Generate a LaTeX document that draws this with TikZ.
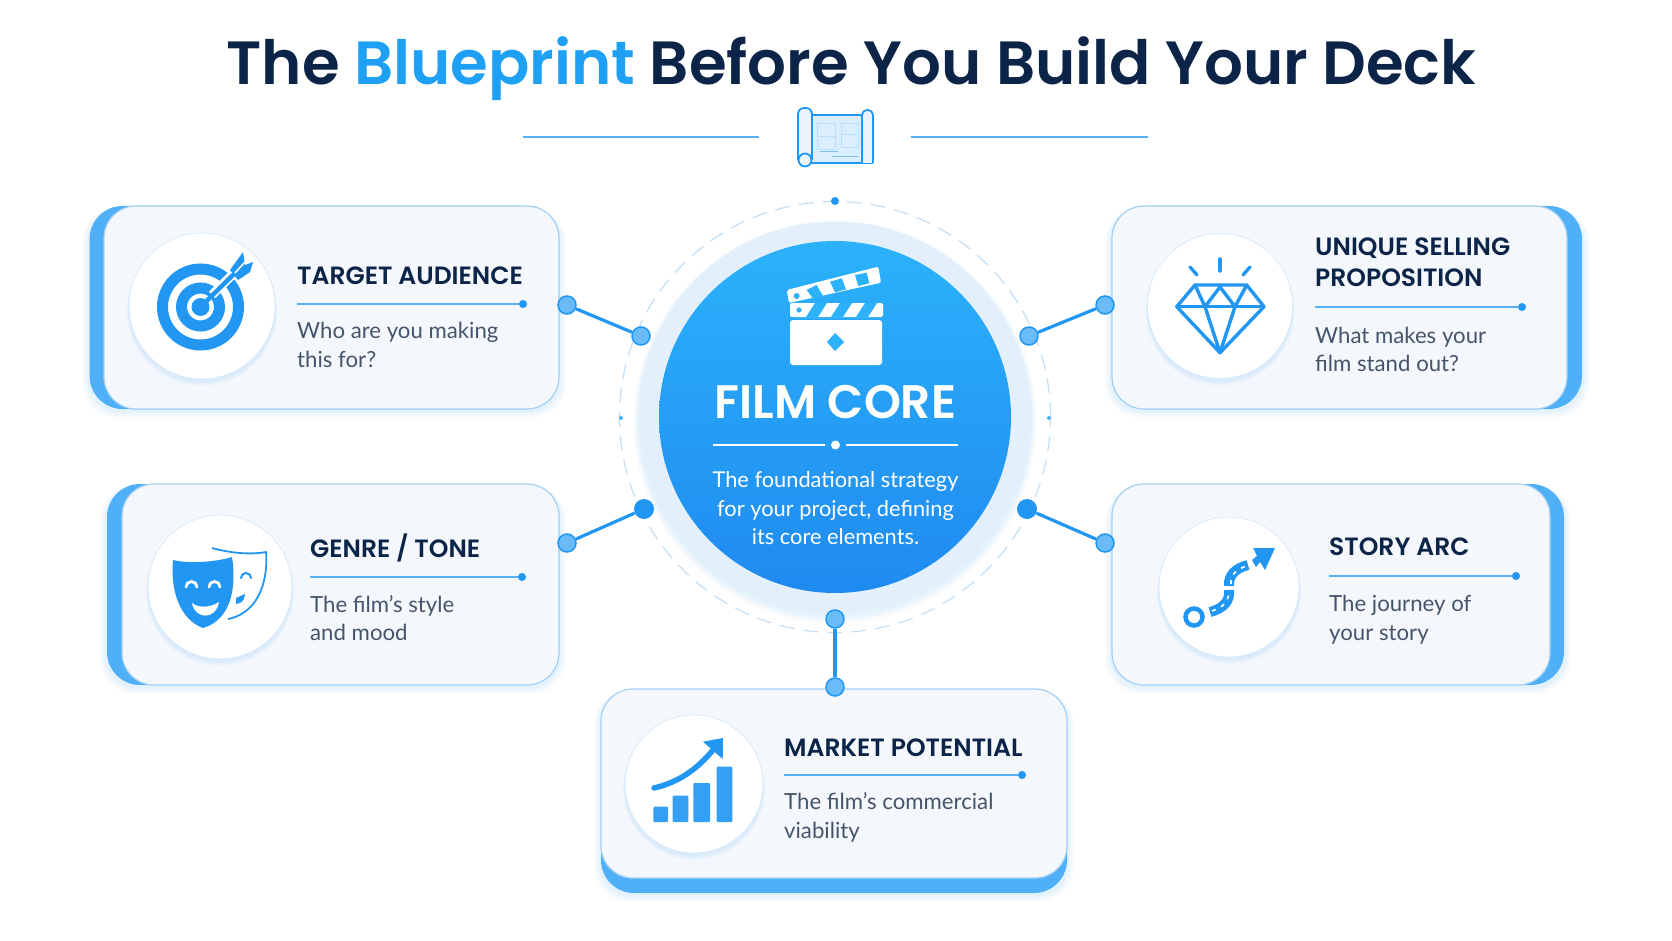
\documentclass[tikz,border=0pt]{standalone}
\usepackage{fontspec}
\setmainfont{Lato}
\newfontfamily\headfont[BoldFont={Poppins SemiBold}]{Poppins}
\usetikzlibrary{shapes.geometric, positioning, shadows}

\definecolor{navy}{HTML}{0B2447}
\definecolor{slatetext}{HTML}{46546B}
\definecolor{skyblue}{HTML}{2196F3}
\definecolor{accent}{HTML}{4FB0F8}
\definecolor{coretop}{HTML}{2BB2FB}
\definecolor{corebottom}{HTML}{1F8AF0}
\definecolor{cardfill}{HTML}{F4F8FD}
\definecolor{cardline}{HTML}{A3D0F4}
\definecolor{halo}{HTML}{E3F0FC}
\definecolor{ringline}{HTML}{C3DFF7}

\tikzset{
  softshadow/.style={
    general shadow={shadow scale=1.03, shadow yshift=-5pt, fill=skyblue, opacity=0.03},
    general shadow={shadow scale=1.02, shadow yshift=-4pt, fill=skyblue, opacity=0.04},
    general shadow={shadow scale=1.01, shadow yshift=-3pt, fill=skyblue, opacity=0.05}},
  cardback/.style={rectangle, rounded corners=33pt, fill=accent, inner sep=0pt, softshadow},
  cardfront/.style={rectangle, rounded corners=32pt, fill=cardfill, draw=cardline, line width=1.2pt, inner sep=0pt},
  iconcircle/.style={circle, fill=white, draw=cardline!50, line width=0.6pt, inner sep=0pt, softshadow},
  cardtitle/.style={anchor=base west, inner sep=0pt, text=navy, font=\headfont\fontsize{25}{32}\selectfont\bfseries},
  carddesc/.style={anchor=base west, inner sep=0pt, text=slatetext, font=\fontsize{22.2}{28.5}\selectfont},
  coreline/.style={anchor=base, inner sep=0pt, text=white, font=\fontsize{21.8}{28}\selectfont},
  ruleend/.style={circle, fill=skyblue, minimum size=8pt, inner sep=0pt},
  rule/.style={skyblue!75, line width=1.3pt},
  joint/.style={circle, fill=accent!85, draw=skyblue, line width=1.5pt, minimum size=18pt, inner sep=0pt},
  jointsolid/.style={circle, fill=skyblue, minimum size=20pt, inner sep=0pt},
  link/.style={skyblue, line width=3.2pt},
  icon/.style={skyblue, line width=3.4pt, line join=round, line cap=round},
}

\begin{document}
\begin{tikzpicture}[x=1pt, y=-1pt]
\useasboundingbox (0,0) rectangle (1672,941);
\fill[white] (0,0) rectangle (1672,941);

% Heading
\node[anchor=base, inner sep=0pt, text=navy, font=\headfont\fontsize{61}{70}\selectfont\bfseries] (heading) at (851.5,85)
  {The {\color{skyblue!90!cyan}Blueprint} Before You Build Your Deck};
\coordinate (headla) at (523,137);
\coordinate (headlb) at (759,137);
\coordinate (headra) at (911,137);
\coordinate (headrb) at (1148,137);
\draw[rule] (headla) -- (headlb);
\draw[rule] (headra) -- (headrb);

% Scroll icon
\fill[skyblue!16] (812,115) rectangle (862,163);
\draw[skyblue, line width=1.8pt, rounded corners=1pt] (812,115) -- (862,115) (805,163) -- (873,163);
\draw[skyblue, line width=1.8pt, rounded corners=6pt, fill=skyblue!10] (798,160) -- (798,108) -- (812,108) -- (812,160);
\draw[skyblue, line width=1.8pt, rounded corners=5pt, fill=skyblue!10] (862,163) -- (862,110) -- (873,110) -- (873,163);
\draw[skyblue, line width=1.8pt, fill=skyblue!10] (805,160) circle (6.5);
\draw[skyblue!30, line width=1pt] (817,124) rectangle (835,150) (841,124) rectangle (858,148) (817,137) -- (835,137) (841,135) -- (858,135);
\draw[skyblue!60, line width=1pt] (820,152) -- (838,152) (832,157) -- (858,157);

% Rings around the core
\node[circle, draw=ringline, line width=1.2pt, dash pattern=on 15pt off 9pt, minimum size=431pt, inner sep=0pt] (outerring) at (835,417) {};
\node[circle, fill=halo, minimum size=391pt, inner sep=0pt, softshadow] (haloring) at (835,417) {};
\node[circle, top color=coretop, bottom color=corebottom, minimum size=352pt, inner sep=0pt] (core) at (835,417) {};
\node[circle, fill=skyblue, minimum size=8pt, inner sep=0pt] (ringtop) at (835,201) {};
\node[circle, fill=accent, minimum size=4pt, inner sep=0pt] (ringleft) at (621,418) {};
\node[circle, fill=accent, minimum size=4pt, inner sep=0pt] (ringright) at (1049,418) {};

% Clapperboard
\fill[white, rounded corners=3pt] (790,320) rectangle (882,365);
\fill[white, rounded corners=2pt] (790,303) rectangle (883,317);
\fill[white, rounded corners=2pt] (786.7,290) -- (878.3,266.7) -- (881,282.7) -- (789,303) -- cycle;
\foreach \sx in {806,831,856} {
  \fill[coretop] (\sx,317) -- (\sx+9,303) -- (\sx+21,303) -- (\sx+12,317) -- cycle;
}
\fill[coretop] (806.7,290) -- (816.7,285) -- (823.3,296.7) -- (813.3,299) -- cycle;
\fill[coretop] (830,281.7) -- (841.7,278.3) -- (846,289.3) -- (835,292.3) -- cycle;
\fill[coretop] (855,275) -- (866.7,272.7) -- (869.3,283.3) -- (858.3,286) -- cycle;
\fill[coretop] (796.7,296) circle (3) (799,310) circle (2.6);
\fill[coretop] (835,333) -- (844,342) -- (835,351) -- (827,342) -- cycle;

% Core text
\node[anchor=base, inner sep=0pt, text=white, font=\headfont\fontsize{47}{50}\selectfont\bfseries] (coretitle) at (835.5,418) {FILM CORE};
\node[circle, fill=white, minimum size=9pt, inner sep=0pt] (coredot) at (835.5,445) {};
\coordinate (corela) at (713,445);
\coordinate (corera) at (958,445);
\draw[white, line width=1.2pt] (corela) -- ([xshift=-6pt]coredot.west);
\draw[white, line width=1.2pt] ([xshift=6pt]coredot.east) -- (corera);
\node[coreline] (coreta) at (835.5,487) {The foundational strategy};
\node[coreline] (coretb) at (835.5,516) {for your project, defining};
\node[coreline] (coretc) at (835.5,544) {its core elements.};

% Target audience
\node[cardback, minimum width=469.4pt, minimum height=203pt] (audienceback) at (324.3,307.5) {};
\node[cardfront, minimum width=455pt, minimum height=203pt] (audience) at (331.5,307.5) {};
\node[iconcircle, minimum size=146pt] (audienceicon) at (202,306) {};
\node[cardtitle] (audiencetitle) at (297,284) {TARGET AUDIENCE};
\coordinate (audiencerule) at (297,304);
\node[ruleend] (audienceend) at (523,304) {};
\draw[rule] (audiencerule) -- (audienceend);
\node[carddesc] (audiencea) at (297,338) {Who are you making};
\node[carddesc] (audienceb) at (297,367) {this for?};

\draw[skyblue, line width=11pt] (200.5,307) circle (38);
\draw[skyblue, line width=11pt] (200.5,307) circle (19);
\fill[skyblue] (200.5,307) circle (9);
\draw[white, line width=9pt] (212,295) -- (245,262);
\draw[skyblue, line width=4.5pt] (200.5,307) -- (238,270);
\fill[skyblue] (230,270) -- (243,252) -- (245,265) -- (253,262) -- (250,272) -- (238,280) -- cycle;
\draw[white, line width=1.5pt] (235,273) -- (245,262);

% Unique selling proposition
\node[cardback, minimum width=470pt, minimum height=203pt] (sellingback) at (1347,307.5) {};
\node[cardfront, minimum width=455pt, minimum height=203pt] (selling) at (1339.5,307.5) {};
\node[iconcircle, minimum size=145pt] (sellingicon) at (1220,306) {};
\node[cardtitle] (sellingtitle) at (1315,255) {UNIQUE SELLING};
\node[cardtitle] (sellingtitleb) at (1315,287) {PROPOSITION};
\coordinate (sellingrule) at (1315,307);
\node[ruleend] (sellingend) at (1522,307) {};
\draw[rule] (sellingrule) -- (sellingend);
\node[carddesc] (sellinga) at (1315,343) {What makes your};
\node[carddesc] (sellingb) at (1315,371) {film stand out?};

\draw[icon] (1195,285) -- (1246.7,285) -- (1264,306.7) -- (1220,352.7) -- (1176.7,306.7) -- cycle;
\draw[icon] (1176.7,306.7) -- (1264,306.7);
\draw[icon] (1195,285) -- (1205,306.7) -- (1220,287) -- (1235,306.7) -- (1246.7,285);
\draw[icon] (1205,306.7) -- (1220,352.7) -- (1235,306.7);
\draw[icon] (1220,259) -- (1220,271);
\draw[icon] (1190,267) -- (1197,275);
\draw[icon] (1250,267) -- (1243,275);

% Genre / tone
\node[cardback, minimum width=452pt, minimum height=201pt] (genreback) at (333,584.5) {};
\node[cardfront, minimum width=437pt, minimum height=201pt] (genre) at (340.5,584.5) {};
\node[iconcircle, minimum size=144pt] (genreicon) at (220,587) {};
\node[cardtitle] (genretitle) at (310,557) {GENRE / TONE};
\coordinate (genrerule) at (310,577);
\node[ruleend] (genreend) at (522,577) {};
\draw[rule] (genrerule) -- (genreend);
\node[carddesc] (genrea) at (310,612) {The film’s style};
\node[carddesc] (genreb) at (310,640) {and mood};

\draw[skyblue, line width=1.8pt, line join=round] (212,548) .. controls (230,553) and (250,555) .. (266,552)
  .. controls (268,575) and (262,612) .. (228,619);
\draw[skyblue, line width=2pt, line cap=round] (241,578) arc[start angle=180, end angle=360, radius=5];
\fill[skyblue] (236,598) -- (245,594) .. controls (244,603) and (240,603) .. (236,604) -- cycle;
\fill[skyblue, line join=round] (173,560) .. controls (190,564) and (215,562) .. (232,557)
  .. controls (237,590) and (230,620) .. (203,628)
  .. controls (180,620) and (170,590) .. (173,560) -- cycle;
\draw[white, line width=2.8pt, line cap=round] (186,587) arc[start angle=180, end angle=360, radius=5.5];
\draw[white, line width=2.8pt, line cap=round] (209,587) arc[start angle=180, end angle=360, radius=5.5];
\fill[white] (192,603) .. controls (198,608) and (210,608) .. (219,602) .. controls (216,620) and (195,620) .. (192,603) -- cycle;

% Story arc
\node[cardback, minimum width=452pt, minimum height=201pt] (storyback) at (1338,584.5) {};
\node[cardfront, minimum width=438pt, minimum height=201pt] (story) at (1331,584.5) {};
\node[iconcircle, minimum size=140pt] (storyicon) at (1229,587) {};
\node[cardtitle] (storytitle) at (1329,555) {STORY ARC};
\coordinate (storyrule) at (1329,576);
\node[ruleend] (storyend) at (1516,576) {};
\draw[rule] (storyrule) -- (storyend);
\node[carddesc] (storya) at (1329,611) {The journey of};
\node[carddesc] (storyb) at (1329,640) {your story};

\draw[skyblue, line width=4.5pt] (1194,617) circle (8.5);
\draw[skyblue, line width=10pt] (1210,612) .. controls (1225,608) and (1230,600) .. (1229,590);
\draw[skyblue, line width=10pt] (1229,586) .. controls (1228,575) and (1236,568) .. (1248,565);
\draw[white, line width=1.6pt, dash pattern=on 4pt off 6pt] (1212,611) .. controls (1225,607) and (1229,600) .. (1229,590);
\draw[white, line width=1.6pt, dash pattern=on 4pt off 6pt] (1231,584) .. controls (1230,575) and (1236,570) .. (1246,566);
\fill[skyblue] (1253,548) -- (1275,548) -- (1265,570) -- (1260,562) -- (1256,567) -- (1252,560) -- (1257,556) -- cycle;

% Market potential
\node[cardback, minimum width=466pt, minimum height=204pt] (marketback) at (834,791) {};
\node[cardfront, minimum width=466pt, minimum height=189pt] (market) at (834,783.5) {};
\node[iconcircle, minimum size=138pt] (marketicon) at (694,784) {};
\node[cardtitle] (markettitle) at (784,756) {MARKET POTENTIAL};
\coordinate (marketrule) at (784,775);
\node[ruleend] (marketend) at (1022,775) {};
\draw[rule] (marketrule) -- (marketend);
\node[carddesc] (marketa) at (784,809) {The film’s commercial};
\node[carddesc] (marketb) at (784,838) {viability};

\fill[accent!40!skyblue, rounded corners=1pt] (653.3,806.7) rectangle (668,822);
\fill[accent!40!skyblue, rounded corners=1pt] (672.7,795.7) rectangle (688.3,822);
\fill[accent!40!skyblue, rounded corners=1pt] (693.3,783) rectangle (710,822);
\fill[accent!40!skyblue, rounded corners=1pt] (716.7,766.7) rectangle (732.3,822);
\draw[skyblue, line width=5.5pt, line cap=round] (654,788) .. controls (680,782) and (698,768) .. (713,750);
\fill[skyblue] (703,741.7) -- (723,738) -- (722.7,759) -- cycle;

% Joints and their links
\node[joint] (audiencejoint) at (567,305) {};
\node[joint] (audiencecore) at (641,336) {};
\draw[link] (audiencejoint) -- (audiencecore);
\node[joint] (sellingjoint) at (1105,305) {};
\node[joint] (sellingcore) at (1029,336) {};
\draw[link] (sellingjoint) -- (sellingcore);
\node[joint] (genrejoint) at (567,543) {};
\node[jointsolid] (genrecore) at (644,509) {};
\draw[link] (genrejoint) -- (genrecore);
\node[joint] (storyjoint) at (1105,543) {};
\node[jointsolid] (storycore) at (1027,509) {};
\draw[link] (storyjoint) -- (storycore);
\node[joint] (marketjoint) at (835,687) {};
\node[joint] (marketcore) at (835,619) {};
\draw[link] (marketjoint) -- (marketcore);
\end{tikzpicture}
\end{document}
